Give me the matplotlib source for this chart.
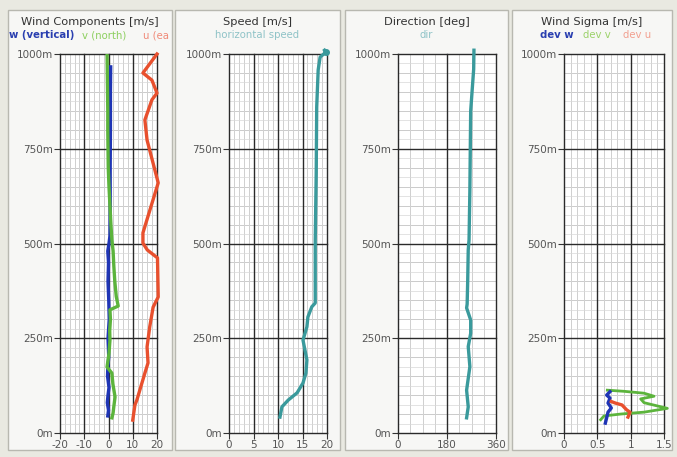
import matplotlib
matplotlib.use("Agg")
import matplotlib.pyplot as plt
from matplotlib.patches import Rectangle
from matplotlib.ticker import MultipleLocator, FixedLocator

# wind components [m/s] vs height [m]
u_h = [1000, 950, 931, 897, 879, 826, 773, 660, 528, 501, 483, 462, 359, 332, 280, 227, 185, 158, 87, 74, 34]
u = [20, 14.2, 17.9, 20, 17.9, 15, 15.9, 20.5, 14.2, 14.2, 16, 20.2, 20.5, 18.4, 17, 15.9, 16.3, 15, 11.7, 10.9, 10]
v_h = [1010, 950, 900, 850, 800, 750, 700, 650, 600, 550, 509, 480, 440, 400, 360, 335, 325, 300, 270, 245, 210, 174, 158, 130, 95, 70, 53, 40]
v = [-0.6, -0.5, -0.4, -0.3, -0.3, -0.2, -0.1, 0.2, 0.6, 1.0, 1.4, 1.9, 2.2, 2.6, 3.2, 4.0, 0.6, 0.8, 0.5, 0.6, 0.2, -0.6, 1.4, 1.8, 2.7, 2.2, 1.9, 1.4]
w_h = [966, 900, 800, 700, 600, 520, 500, 480, 450, 400, 350, 300, 250, 200, 170, 150, 120, 100, 80, 60, 45]
w = [0.9, 0.8, 0.8, 0.7, 0.7, 0.6, 0.2, -0.3, 0.0, -0.2, 0.1, 0.3, -0.2, 0.1, -0.3, -0.4, 0.2, -0.2, -0.5, 0.0, -0.3]

# horizontal speed
sp_h = [1010, 1005, 992, 958, 860, 686, 509, 343, 333, 306, 280, 245, 219, 193, 158, 132, 106, 87, 69, 42]
sp = [19.5, 19.8, 18.6, 18.2, 17.9, 17.8, 17.6, 17.6, 16.9, 16.1, 15.9, 15.1, 15.5, 15.9, 15.7, 15.1, 13.9, 12.1, 10.8, 10.4]

# direction
dir_h = [1010, 960, 850, 640, 510, 483, 400, 340, 330, 298, 263, 228, 175, 113, 69, 40]
dirs = [279, 278, 267, 264, 261, 258, 256, 254, 252, 267, 267, 258, 264, 252, 258, 252]

# wind sigma
dv_h = [113, 110, 105, 97, 90, 80, 65, 55, 50, 45, 35]
dev_v = [0.65, 0.9, 1.2, 1.35, 1.15, 1.2, 1.55, 1.2, 0.85, 0.6, 0.55]
dw_h = [109, 100, 92, 79, 66, 55, 40, 26]
dev_w = [0.69, 0.64, 0.69, 0.66, 0.71, 0.66, 0.64, 0.62]
du_h = [83, 79, 74, 61, 55, 42]
dev_u = [0.71, 0.77, 0.87, 0.94, 0.99, 0.96]

heights = [0, 250, 500, 750, 1000]
height_labels = ["0m", "250m", "500m", "750m", "1000m"]

BLUE = "#1f35b5"
GREEN = "#5cb43c"
RED = "#e8502e"
TEAL = "#3a9a9c"

W, H = 677, 457
fig = plt.figure(figsize=(W / 100, H / 100), dpi=100, facecolor="#e9e9e1")

def px(x0, y0, x1, y1):
    return [x0 / W, 1 - y1 / H, (x1 - x0) / W, (y1 - y0) / H]

panels = [(8, 172), (175, 340), (345, 508), (512, 672)]
for a, b in panels:
    fig.patches.append(Rectangle((a / W, 1 - 450 / H), (b - a) / W, 440 / H,
                                 transform=fig.transFigure, facecolor="#f7f7f5",
                                 edgecolor="#b8b8b0", lw=1, zorder=-10))

axes_px = [(60, 157), (229, 327), (398, 496), (564, 664)]
xlims = [(-20, 20), (0, 20), (0, 360), (0, 1.5)]
majors = [[-20, -10, 0, 10, 20], [0, 5, 10, 15, 20], [0, 180, 360], [0, 0.5, 1, 1.5]]
minors = [2, 1, 45, 0.1]
xlabels = [["-20", "-10", "0", "10", "20"], ["0", "5", "10", "15", "20"],
           ["0", "180", "360"], ["0", "0.5", "1", "1.5"]]

axs = []
for i, (l, r) in enumerate(axes_px):
    ax = fig.add_axes(px(l, 54, r, 433))
    ax.set_facecolor("white")
    ax.set_xlim(*xlims[i])
    ax.set_ylim(0, 1000)
    ax.xaxis.set_major_locator(FixedLocator(majors[i]))
    ax.set_xticklabels(xlabels[i])
    ax.xaxis.set_minor_locator(MultipleLocator(minors[i]))
    ax.yaxis.set_major_locator(FixedLocator(heights))
    ax.set_yticklabels(height_labels)
    ax.yaxis.set_minor_locator(MultipleLocator(25))
    ax.grid(which="minor", axis="x", color="#c8c8c8", lw=0.6)
    ax.grid(which="minor", axis="y", color="#d8d8d8", lw=0.5)
    for hh in range(50, 1000, 50):
        if hh % 250:
            ax.axhline(hh, color="#a2a2a2", lw=0.6, zorder=0.45)
    # dark major grid on top of the light ones
    for xm in majors[i]:
        ax.axvline(xm, color="#2a2a2a", lw=1.0, zorder=0.8, clip_on=False)
    for ym in heights:
        ax.axhline(ym, color="#2a2a2a", lw=1.0, zorder=0.8, clip_on=False)
    ax.set_axisbelow(True)
    for s in ax.spines.values():
        s.set_visible(False)
    ax.tick_params(which="major", length=4, width=0.8, color="#333333",
                   labelsize=7.5, labelcolor="#555555", pad=1)
    ax.tick_params(which="minor", length=0)
    axs.append(ax)

ax = axs[0]
ax.plot(w, w_h, color=BLUE, lw=2.4, solid_joinstyle="round")
ax.plot(v, v_h, color=GREEN, lw=2.4, solid_joinstyle="round")
ax.plot(u, u_h, color=RED, lw=2.4, solid_joinstyle="round", clip_on=False)

ax = axs[1]
ax.plot(sp, sp_h, color=TEAL, lw=2.4, clip_on=False)
ax.plot(sp[1], sp_h[1], "o", color=TEAL, ms=4, clip_on=False)

ax = axs[2]
ax.plot(dirs, dir_h, color=TEAL, lw=2.4, clip_on=False)

ax = axs[3]
ax.plot(dev_v, dv_h, color=GREEN, lw=2.0, clip_on=False)
ax.plot(dev_w, dw_h, color=BLUE, lw=2.4)
ax.plot(dev_u, du_h, color=RED, lw=2.4)

# titles
titles = ["Wind Components [m/s]", "Speed [m/s]", "Direction [deg]", "Wind Sigma [m/s]"]
centers = [(a + b) / 2 for a, b in panels]
for t, c in zip(titles, centers):
    fig.text(c / W, 1 - 22 / H, t, ha="center", va="center", fontsize=8.2, color="#333333")

def leg(x, s, col, bold=False):
    fig.text(x / W, 1 - 35 / H, s, ha="left", va="center", fontsize=7.3, color=col,
             fontweight="bold" if bold else "normal")

leg(9, "w (vertical)", "#2a3fb0", True)
leg(82, "v (north)", "#8ccf5e")
leg(143, "u (ea", "#f08a78")
fig.text(centers[1] / W, 1 - 35 / H, "horizontal speed", ha="center", va="center",
         fontsize=7.3, color="#8fc3c7")
fig.text(centers[2] / W, 1 - 35 / H, "dir", ha="center", va="center",
         fontsize=7.3, color="#8fc3c7")
leg(540, "dev w", "#2a3fb0", True)
leg(583, "dev v", "#9cd26a")
leg(623, "dev u", "#f2a090")

fig.savefig("out.png", dpi=100, facecolor=fig.get_facecolor())
